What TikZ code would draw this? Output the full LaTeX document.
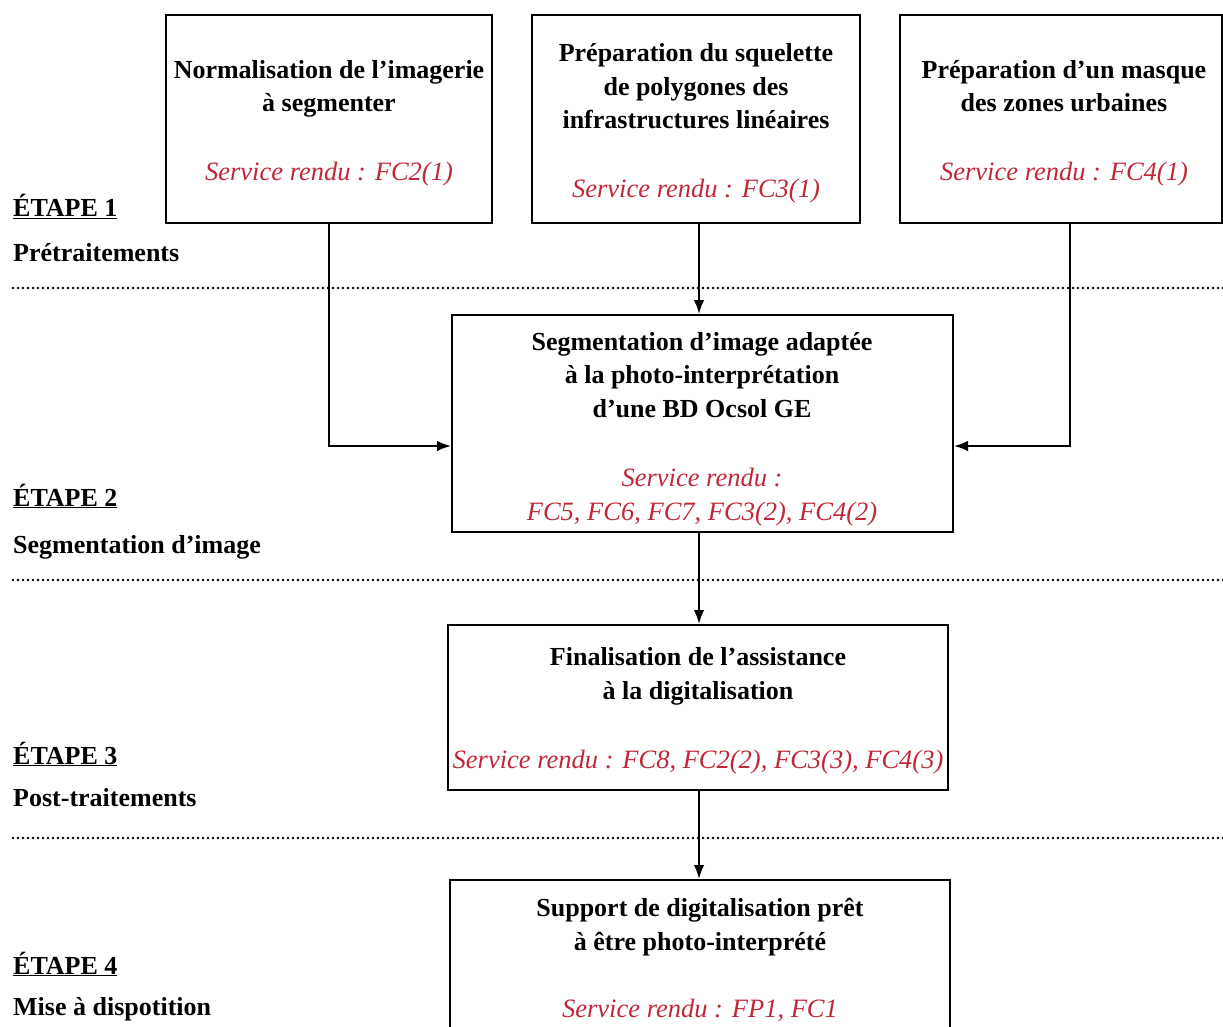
\documentclass[tikz,border=0pt]{standalone}
\usepackage{fontspec}
\setmainfont{Liberation Serif}
\usetikzlibrary{arrows.meta}
\definecolor{svc}{RGB}{192,40,55}
\tikzset{
  box/.style={draw=black, line width=2pt, rectangle, inner sep=0pt},
  ttl/.style={font=\fontsize{26}{33.5}\selectfont\bfseries, align=center, inner sep=0pt, anchor=base},
  srv/.style={font=\fontsize{26.5}{34}\selectfont\itshape, text=svc, align=center, inner sep=0pt, anchor=base},
  lab/.style={font=\fontsize{26}{33}\selectfont\bfseries, inner sep=0pt, anchor=base west},
  sep/.style={line width=2.8pt, dash pattern=on 0pt off 5pt, line cap=round},
  conn/.style={line width=1.8pt, -{Latex[length=14pt,width=10.5pt]}},
}
\begin{document}
\begin{tikzpicture}[x=1pt,y=-1pt]
\clip (0,0) rectangle (1223,1027);
\fill[white] (0,0) rectangle (1223,1027);
% dotted separators
\coordinate (s1l) at (13,288); \coordinate (s1r) at (1223,288);
\coordinate (s2l) at (13,580); \coordinate (s2r) at (1223,580);
\coordinate (s3l) at (13,838); \coordinate (s3r) at (1223,838);
\draw[sep] (s1l) -- (s1r);
\draw[sep] (s2l) -- (s2r);
\draw[sep] (s3l) -- (s3r);
% boxes
\node[box, minimum width=326pt, minimum height=208pt] (b1) at (329,119) {};
\node[box, minimum width=328pt, minimum height=208pt] (b2) at (696,119) {};
\node[box, minimum width=322pt, minimum height=208pt] (b3) at (1061,119) {};
\node[box, minimum width=501pt, minimum height=217pt] (b4) at (702.5,423.5) {};
\node[box, minimum width=500pt, minimum height=165pt] (b5) at (698,707.5) {};
\node[box, minimum width=500pt, minimum height=200pt] (b6) at (700,980) {};
% box texts (anchor = baseline of last line)
\node[ttl] (t1) at (329,112) {Normalisation de l’imagerie\\à segmenter};
\node[srv] (r1) at (329,181) {Service rendu : FC2(1)};
\node[ttl] (t2) at (696,129) {Préparation du squelette\\de polygones des\\infrastructures linéaires};
\node[srv] (r2) at (696,197) {Service rendu : FC3(1)};
\node[ttl] (t3) at (1064,112) {Préparation d’un masque\\des zones urbaines};
\node[srv] (r3) at (1064,181) {Service rendu : FC4(1)};
\node[ttl] (t4) at (702,417) {Segmentation d’image adaptée\\à la photo-interprétation\\d’une BD Ocsol GE};
\node[srv] (r4) at (702,520) {Service rendu :\\FC5, FC6, FC7, FC3(2), FC4(2)};
\node[ttl] (t5) at (698,699) {Finalisation de l’assistance\\à la digitalisation};
\node[srv] (r5) at (698,768) {Service rendu : FC8, FC2(2), FC3(3), FC4(3)};
\node[ttl] (t6) at (700,950) {Support de digitalisation prêt\\à être photo-interprété};
\node[srv] (r6) at (700,1017) {Service rendu : FP1, FC1};
% stage labels
\node[lab] (e1) at (13,217) {\underline{ÉTAPE 1}};
\node[lab] (p1) at (13,261) {Prétraitements};
\node[lab] (e2) at (13,506) {\underline{ÉTAPE 2}};
\node[lab] (p2) at (13,553) {Segmentation d’image};
\node[lab] (e3) at (13,764) {\underline{ÉTAPE 3}};
\node[lab] (p3) at (13,806) {Post-traitements};
\node[lab] (e4) at (13,974) {\underline{ÉTAPE 4}};
\node[lab] (p4) at (13,1015) {Mise à dispotition};
% connectors
\draw[conn] (b1.south) |- (b4.west |- 0,446);
\draw[conn] (b3.south -| 1070,0) |- (b4.east |- 0,446);
\draw[conn] (b2.south -| 699,0) -- (b4.north -| 699,0);
\draw[conn] (b4.south -| 699,0) -- (b5.north -| 699,0);
\draw[conn] (b5.south -| 699,0) -- (b6.north -| 699,0);
\end{tikzpicture}
\end{document}
